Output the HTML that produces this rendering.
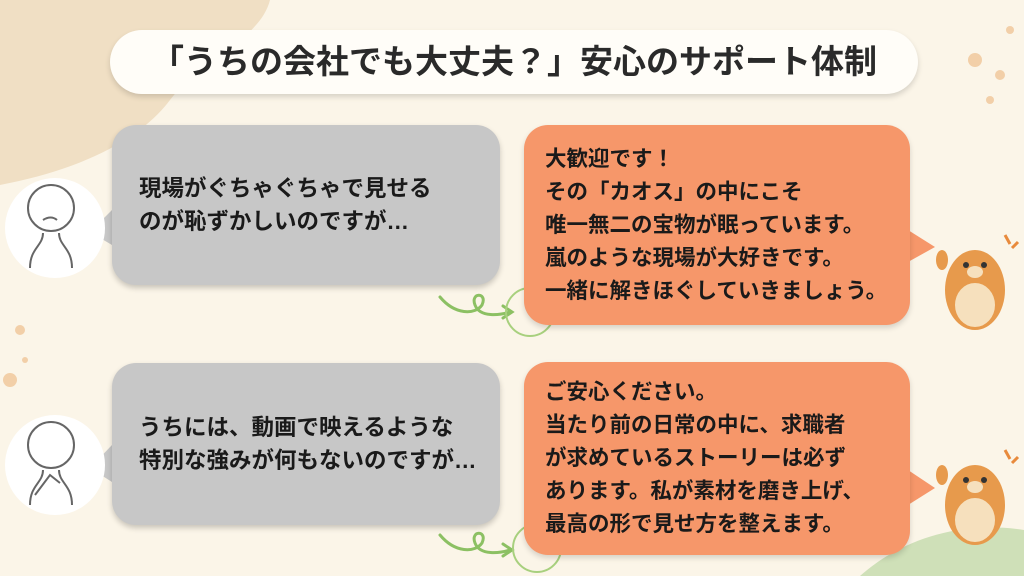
<!DOCTYPE html>
<html><head><meta charset="utf-8"><style>
body{margin:0;width:1024px;height:576px;overflow:hidden;background:#fbf5e8;position:relative;font-family:"Liberation Sans","Noto Sans CJK JP",sans-serif;}
.abs{position:absolute}
.title{left:110px;top:30px;width:808px;height:64px;background:#fffdf8;border-radius:32px;box-shadow:0 3px 6px rgba(0,0,0,.15);text-align:center;line-height:64px;font-size:33px;font-weight:bold;color:#2a2a2a;white-space:nowrap}
.gray{background:#c7c7c7;border-radius:24px;box-shadow:0 3px 6px rgba(0,0,0,.2);font-size:22.5px;font-weight:bold;color:#1a1a1a;line-height:33px;padding-left:27px;box-sizing:border-box;display:flex;align-items:center;white-space:nowrap}
.org{background:#f6976a;border-radius:24px;box-shadow:0 3px 6px rgba(0,0,0,.15);font-size:21.5px;font-weight:bold;color:#1a1a1a;line-height:33px;padding-left:21px;box-sizing:border-box;display:flex;align-items:center;white-space:nowrap}
.av{width:100px;height:100px;border-radius:50%;background:#fff}
</style></head><body>
<svg class="abs" style="left:0;top:0" width="1024" height="576">
<path d="M0 0 H270 C260 40 200 60 170 100 C140 140 80 170 0 185 Z" fill="#f0dfc4"/>
<path d="M860 576 C900 540 960 520 1024 530 V576 Z" fill="#cfe0b8"/>
<g fill="#f2cfa8"><circle cx="975" cy="60" r="7"/><circle cx="1000" cy="75" r="5"/><circle cx="990" cy="100" r="4"/><circle cx="1010" cy="30" r="4"/><circle cx="20" cy="330" r="5"/><circle cx="10" cy="380" r="7"/><circle cx="25" cy="360" r="3"/></g>
<g fill="none" stroke="#8cc063" stroke-width="3" stroke-linecap="round">
<path d="M440 297 C455 315 475 315 482 305 C488 292 470 292 475 305 C480 318 500 315 510 312"/><path d="M503 306 L512 312 L503 318"/>
<path d="M440 535 C455 553 475 553 482 543 C488 530 470 530 475 543 C480 556 500 553 510 550"/><path d="M503 544 L512 550 L503 556"/>
</g>
<g fill="none" stroke="#a8d07e" stroke-width="2"><circle cx="530" cy="312" r="24"/><circle cx="537" cy="548" r="24"/></g>
<polygon points="112,210 90,232 112,245" fill="#c7c7c7"/>
<polygon points="112,445 90,468 112,482" fill="#c7c7c7"/>
<polygon points="908,230 935,247 908,262" fill="#f6976a"/>
<polygon points="908,470 935,488 908,505" fill="#f6976a"/>
</svg>
<div class="abs title">「うちの会社でも大丈夫？」安心のサポート体制</div>
<div class="abs av" style="left:5px;top:178px"></div>
<div class="abs av" style="left:5px;top:415px"></div>
<svg class="abs" style="left:5px;top:178px" width="100" height="100"><g fill="none" stroke="#666" stroke-width="2"><circle cx="46" cy="30" r="23"/><path d="M25 90 C25 70 38 68 38 55 M67 90 C67 70 54 68 54 55"/><path d="M38 42 Q46 37 52 42"/></g></svg>
<svg class="abs" style="left:5px;top:415px" width="100" height="100"><g fill="none" stroke="#666" stroke-width="2"><circle cx="46" cy="30" r="23"/><path d="M25 90 C25 70 38 68 38 55 M67 90 C67 70 54 68 54 55"/><path d="M30 80 L45 60 L55 68"/></g></svg>
<div class="abs gray" style="left:112px;top:125px;width:388px;height:160px">現場がぐちゃぐちゃで見せる<br>のが恥ずかしいのですが…</div>
<div class="abs gray" style="left:112px;top:363px;width:388px;height:162px">うちには、動画で映えるような<br>特別な強みが何もないのですが…</div>
<div class="abs org" style="left:524px;top:125px;width:386px;height:200px">大歓迎です！<br>その「カオス」の中にこそ<br>唯一無二の宝物が眠っています。<br>嵐のような現場が大好きです。<br>一緒に解きほぐしていきましょう。</div>
<div class="abs org" style="left:524px;top:362px;width:386px;height:193px">ご安心ください。<br>当たり前の日常の中に、求職者<br>が求めているストーリーは必ず<br>あります。私が素材を磨き上げ、<br>最高の形で見せ方を整えます。</div>
<svg class="abs" style="left:930px;top:230px" width="94" height="110"><g><ellipse cx="45" cy="60" rx="30" ry="40" fill="#e79a4c"/><ellipse cx="45" cy="75" rx="20" ry="22" fill="#f6e0bd"/><ellipse cx="45" cy="42" rx="8" ry="6" fill="#f6e0bd"/><circle cx="36" cy="35" r="3" fill="#333"/><circle cx="54" cy="35" r="3" fill="#333"/><ellipse cx="12" cy="30" rx="6" ry="10" fill="#e79a4c"/></g><g stroke="#e88a3c" stroke-width="3"><path d="M75 5 L80 14 M88 12 L82 18"/></g></svg>
<svg class="abs" style="left:930px;top:445px" width="94" height="110"><g><ellipse cx="45" cy="60" rx="30" ry="40" fill="#e79a4c"/><ellipse cx="45" cy="75" rx="20" ry="22" fill="#f6e0bd"/><ellipse cx="45" cy="42" rx="8" ry="6" fill="#f6e0bd"/><circle cx="36" cy="35" r="3" fill="#333"/><circle cx="54" cy="35" r="3" fill="#333"/><ellipse cx="12" cy="30" rx="6" ry="10" fill="#e79a4c"/></g><g stroke="#e88a3c" stroke-width="3"><path d="M75 5 L80 14 M88 12 L82 18"/></g></svg>
</body></html>
